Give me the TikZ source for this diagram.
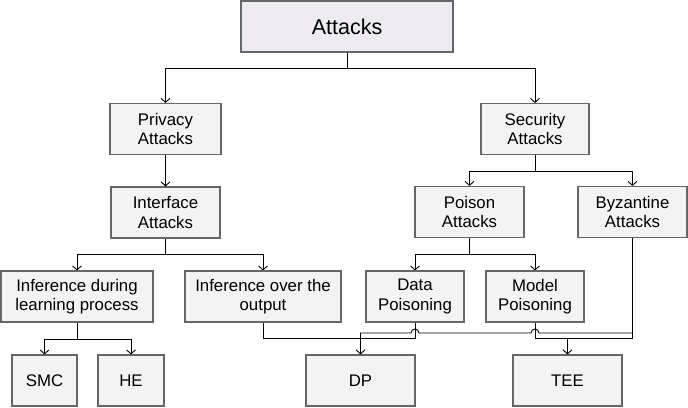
\documentclass[tikz,border=0pt]{standalone}
\usepackage{fontspec}
\setmainfont{Liberation Sans}
\usetikzlibrary{arrows.meta,positioning,calc}
\definecolor{boxfill}{HTML}{F3F3F3}
\definecolor{topfill}{HTML}{EDEAF2}
\definecolor{boxline}{HTML}{666666}

\tikzset{
    box/.style={draw=boxline, fill=boxfill, line width=1.1pt, align=center,
        inner sep=0pt, font=\fontsize{16.8}{19.5}\selectfont},
    arr/.style={-{Straight Barb[length=4pt,width=9pt]}, line width=0.9pt},
    wire/.style={line width=0.9pt},
}

\begin{document}
\begin{tikzpicture}[x=1pt,y=-1pt]
    \useasboundingbox (0,0) rectangle (688,407);

    % top
    \node[box, fill=topfill, minimum width=212pt, minimum height=51pt,
        font=\fontsize{21.5}{25}\selectfont] (attacks) at (347,26.5) {Attacks};

    % privacy side
    \node[box, minimum width=111pt, minimum height=51pt] (privacy) at (165.5,129) {Privacy\\Attacks};
    \node[box, minimum width=109pt, minimum height=51pt] (interface) at (165.5,212.5) {Interface\\Attacks};
    \node[box, minimum width=152pt, minimum height=51pt] (during) at (77,296.5) {Inference during\\learning process};
    \node[box, minimum width=156pt, minimum height=51pt] (output) at (263,296.5) {Inference over the\\output};
    \node[box, minimum width=65pt, minimum height=51pt] (smc) at (44.5,380.5) {SMC};
    \node[box, minimum width=66pt, minimum height=51pt] (he) at (131,380.5) {HE};

    % security side
    \node[box, minimum width=108pt, minimum height=51pt] (security) at (535,129) {Security\\Attacks};
    \node[box, minimum width=109pt, minimum height=51pt] (poison) at (469.5,212) {Poison\\Attacks};
    \node[box, minimum width=109pt, minimum height=51pt] (byzantine) at (632.5,212) {Byzantine\\Attacks};
    \node[box, minimum width=98pt, minimum height=51pt] (data) at (415,296.5) {Data\\Poisoning};
    \node[box, minimum width=98pt, minimum height=51pt] (model) at (535,296.5) {Model\\Poisoning};

    % defences
    \node[box, minimum width=109pt, minimum height=51pt] (dp) at (360.5,380.5) {DP};
    \node[box, minimum width=109pt, minimum height=51pt] (tee) at (567.5,380.5) {TEE};

    % tree links
    \draw[arr] (attacks.south) -- ++(0,16) -| (privacy.north);
    \draw[arr] (attacks.south) -- ++(0,16) -| (security.north);
    \draw[arr] (privacy.south) -- (interface.north);
    \draw[arr] (interface.south) -- ++(0,16) -| (during.north);
    \draw[arr] (interface.south) -- ++(0,16) -| (output.north);
    \draw[arr] (during.south) -- ++(0,17) -| (smc.north);
    \draw[arr] (during.south) -- ++(0,17) -| (he.north);
    \draw[arr] (security.south) -- ++(0,16) -| (poison.north);
    \draw[arr] (security.south) -- ++(0,16) -| (byzantine.north);
    \draw[arr] (poison.south) -- ++(0,16) -| (data.north);
    \draw[arr] (poison.south) -- ++(0,16) -| (model.north);

    % bottom links
    \coordinate (hiY) at (0,333);
    \coordinate (loY) at (0,338);
    \draw[wire] (output.south) |- (data.south |- loY) -- (data.south);
    \draw[wire] (model.south) |- (byzantine.south |- loY) -- (byzantine.south |- hiY);
    \draw[arr] (byzantine.south) |- ($(model.south |- hiY)+(4,0)$)
        arc[start angle=0, end angle=-180, radius=4]
        -- ($(data.south |- hiY)+(4,0)$)
        arc[start angle=0, end angle=-180, radius=4] -| (dp.north);
    \draw[arr] (tee.north |- loY) -- (tee.north);
\end{tikzpicture}
\end{document}
